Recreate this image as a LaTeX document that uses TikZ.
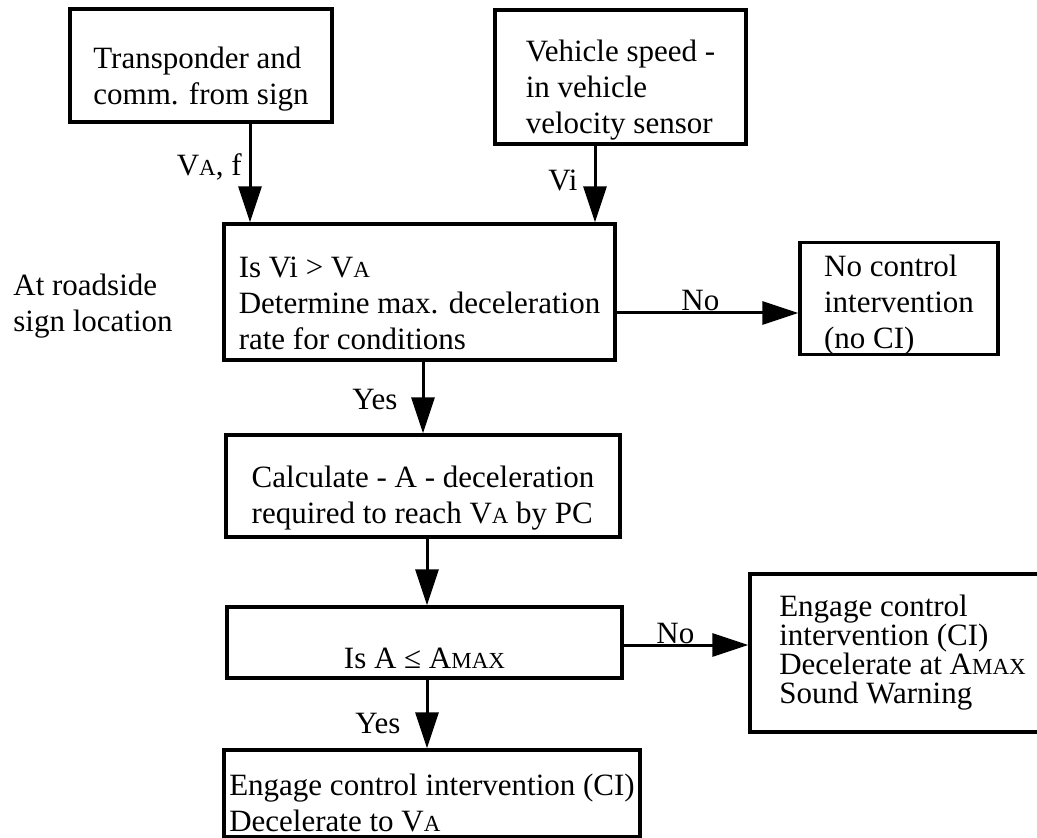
\documentclass[tikz,border=0pt]{standalone}
\usepackage{fontspec}
\setmainfont{Liberation Serif}
\usetikzlibrary{arrows.meta}
\newcommand\lowcap[1]{{\fontsize{11.5}{12}\selectfont #1}}
\newcommand\lift[1]{\rule{0pt}{#1}}

\begin{document}
\begin{tikzpicture}[x=0.5pt,y=-0.5pt,every node/.style={font=\fontsize{15.5}{18}\selectfont,inner sep=0pt},box/.style={draw,line width=1.6pt,align=left},flow/.style={line width=1.5pt,-{Triangle[length=18pt,width=11.5pt]}},tag/.style={anchor=base west}]
\useasboundingbox (0,0) rectangle (1037,838);\clip (0,0) rectangle (1037,838);
\node[box,minimum width=131pt,minimum height=56.5pt] (transp) at (201,65.5){\lift{24pt}Transponder and\\comm. from sign};
\node[box,minimum width=125.5pt,minimum height=67pt] (speed) at (620.5,77){\lift{24pt}Vehicle speed -\\in vehicle\\velocity sensor};
\node[box,minimum width=195.5pt,minimum height=68pt] (check) at (419.5,292){\lift{22pt}Is Vi > V\lowcap{A}\\Determine max. deceleration\\rate for conditions};
\node[box,minimum width=99pt,minimum height=53.5pt] (noci) at (899,298.5){\lift{17pt}No control\\intervention\\(no CI)};
\node[anchor=west,align=left] (place) at (13,306){At roadside\\sign location};
\node[box,minimum width=197pt,minimum height=51pt] (calc) at (423,486){\lift{22.5pt}Calculate - A - deceleration\\required to reach V\lowcap{A} by PC};
\node[box,minimum width=197.5pt,minimum height=35.5pt] (limit) at (424.5,642.5){\lift{26pt}Is A ≤ A\lowcap{MAX}};
\node[box,font=\fontsize{15.5}{14.5}\selectfont,minimum width=152.5pt,minimum height=79pt] (warn) at (902.5,653){Engage control\\intervention (CI)\\Decelerate at A\lowcap{MAX}\\Sound Warning};
\node[box,minimum width=208pt,minimum height=43.5pt] (engage) at (432,793.5){\lift{20pt}Engage control intervention (CI)\\Decelerate to V\lowcap{A}};
\draw[flow] (transp.south -| 250,0) -- (check.north -| 250,0);\node[anchor=east] (vaf) at (242,167){V\lowcap{A}, f};
\draw[flow] (speed.south -| 595,0) -- (check.north -| 595,0);\node[anchor=east] (vi) at (578,180){Vi};
\draw[flow] (check.east |- 0,313) -- (noci.west |- 0,313);\node[tag] (no1) at (681,311){No};
\draw[flow] (check.south -| 423,0) -- (calc.north -| 423,0);\node[tag] (yes1) at (352,410){Yes};
\draw[flow] (calc.south -| 427,0) -- (limit.north -| 427,0);
\draw[flow] (limit.east |- 0,645) -- (warn.west |- 0,645);\node[tag] (no2) at (656,643){No};
\draw[flow] (limit.south -| 427,0) -- (engage.north -| 427,0);\node[tag] (yes2) at (355,733){Yes};
\end{tikzpicture}
\end{document}
